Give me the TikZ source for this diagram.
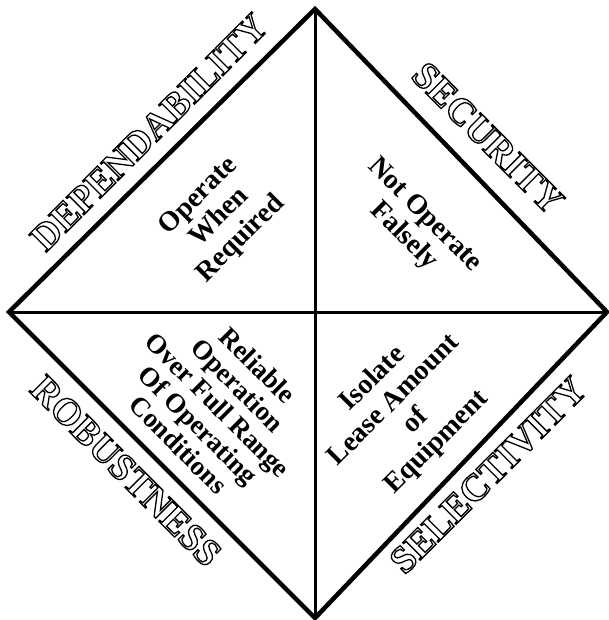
\documentclass[tikz,border=0pt]{standalone}
\usepackage{fontspec}
\setmainfont{Liberation Serif}
\newcommand\hollowtext[1]{\special{pdf:literal direct 1 Tr 1.3 w}#1\special{pdf:literal direct 0 Tr}}
\begin{document}
\begin{tikzpicture}[x=1pt,y=-1pt,
  edge/.style={line width=4.5pt,line join=miter},
  cross/.style={line width=3pt},
  catlabel/.style={inner sep=0pt,font=\fontsize{38}{40}\selectfont\bfseries},
  inlabel/.style={inner sep=0pt,align=center,font=\fontsize{28}{30}\selectfont\bfseries}]
\useasboundingbox[fill=white] (0,0) rectangle (608,620);
\coordinate (T) at (315,9);
\coordinate (L) at (9,312);
\coordinate (R) at (607,312);
\coordinate (B) at (315,618);
\draw[edge] (T)--(R)--(B)--(L)--cycle;
\draw[cross] (L)--(R) (T)--(B);
\node[catlabel,rotate=45] (dep) at (149,132) {\hollowtext{DEPENDABILITY}};
\node[catlabel,rotate=-45] (sec) at (488,138) {\hollowtext{SECURITY}};
\node[catlabel,rotate=-45] (rob) at (126,471) {\hollowtext{ROBUSTNESS}};
\node[catlabel,rotate=45] (sel) at (488,475) {\hollowtext{SELECTIVITY}};
\node[inlabel,rotate=45] (opr) at (220,218) {Operate\\When\\Required};
\node[inlabel,rotate=-45] (nop) at (414,226) {Not Operate\\Falsely};
\node[inlabel,rotate=-45,font=\fontsize{27}{28}\selectfont\bfseries] (rel) at (218,405) {Reliable\\Operation\\Over Full Range\\Of Operating\\Conditions};
\node[inlabel,rotate=45] (iso) at (405,411) {Isolate\\Lease Amount\\of\\Equipment};
\end{tikzpicture}
\end{document}
